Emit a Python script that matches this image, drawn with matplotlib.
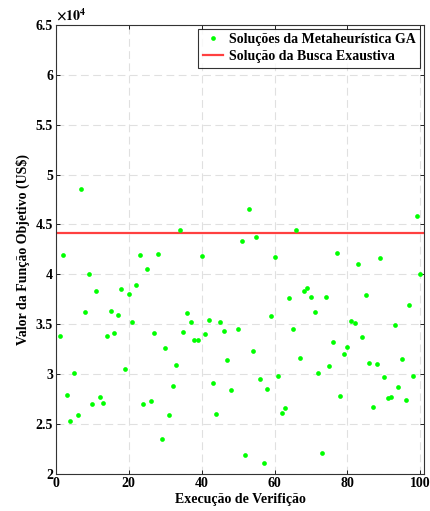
import numpy as np
from matplotlib import pyplot as plt

plt.rcParams['font.family'] = ['Liberation Serif', 'DejaVu Serif']
plt.rcParams['font.weight'] = 'bold'
plt.rcParams['mathtext.fontset'] = 'stix'

# run index (49 not visible in the reference)
runs = [1, 2, 3, 4, 5, 6, 7, 8, 9, 10,
        11, 12, 13, 14, 15, 16, 17, 18, 19, 20,
        21, 22, 23, 24, 25, 26, 27, 28, 29, 30,
        31, 32, 33, 34, 35, 36, 37, 38, 39, 40,
        41, 42, 43, 44, 45, 46, 47, 48, 50,
        51, 52, 53, 54, 55, 56, 57, 58, 59, 60,
        61, 62, 63, 64, 65, 66, 67, 68, 69, 70,
        71, 72, 73, 74, 75, 76, 77, 78, 79, 80,
        81, 82, 83, 84, 85, 86, 87, 88, 89, 90,
        91, 92, 93, 94, 95, 96, 97, 98, 99, 100]
ga_cost = [33850, 41900, 27900, 25300, 30150, 25950, 48600, 36200, 40000, 27000,
           38350, 27700, 27150, 33800, 36350, 34150, 35950, 38550, 30550, 38000,
           35250, 38900, 41900, 27000, 40500, 27300, 34100, 42000, 23550, 32600,
           25950, 28850, 30900, 44450, 34200, 36150, 35200, 33450, 33450, 41850,
           34000, 35450, 29100, 26000, 35250, 34300, 31400, 28450, 34550,
           43300, 21950, 46500, 32300, 43700, 29550, 21150, 28500, 35850, 41750,
           29850, 26100, 26600, 37650, 34500, 44450, 31600, 38300, 38600, 37700,
           36250, 30100, 22150, 37700, 30850, 33200, 42100, 27800, 32050, 32700,
           35300, 35100, 41000, 33700, 37950, 31150, 26750, 31050, 41600, 29750,
           27600, 27700, 34950, 28700, 31500, 27400, 36950, 29850, 45850, 40050]
exhaustive_cost = 44170

y_ticks = np.arange(20000, 65001, 5000)
y_labels = ['2', '2.5', '3', '3.5', '4', '4.5', '5', '5.5', '6', '6.5']
x_ticks = [0, 20, 40, 60, 80, 100]

fig = plt.figure(figsize=(4.30, 5.11), dpi=100)
ax = fig.add_axes((0.130, 0.0724, 0.856, 0.879))

ax.plot(runs, ga_cost, 'o', color=(0, 1, 0), markersize=3.4, markeredgewidth=0,
        label='Soluções da Metaheurística GA', zorder=3)
ax.axhline(exhaustive_cost, color='#ff4040', lw=1.6,
           label='Solução da Busca Exaustiva', zorder=2)

ax.set_xlim(0, 101)
ax.set_ylim(20000, 65000)
ax.set_xticks(x_ticks)
ax.set_yticks(y_ticks)
ax.set_yticklabels(y_labels)
ax.tick_params(direction='in', top=True, right=True, labelsize=10, length=3,
               width=0.6, pad=2)
for lab in ax.get_xticklabels() + ax.get_yticklabels():
    lab.set_fontweight('bold')
ax.grid(True, color='#e0e0e0', linestyle=(0, (7, 4)), linewidth=0.8)
for sp in ax.spines.values():
    sp.set_linewidth(0.8)
    sp.set_color('#333333')

ax.text(0.0, 1.002, r'$\times10^{4}$', transform=ax.transAxes,
        ha='left', va='bottom', fontsize=10)

ax.set_xlabel('Execução de Verifição', fontsize=10, fontweight='bold', labelpad=2)
ax.set_ylabel('Valor da Função Objetivo (US\\$)', fontsize=10, fontweight='bold',
              labelpad=4)

leg = ax.legend(loc='upper right', fontsize=10, frameon=True, fancybox=False,
                borderaxespad=0.3, handlelength=1.5, borderpad=0.3,
                labelspacing=0.3, handletextpad=0.4)
leg.get_frame().set_edgecolor('black')
leg.get_frame().set_linewidth(0.8)
for t in leg.get_texts():
    t.set_fontweight('bold')

plt.savefig('out.png', dpi=100)
